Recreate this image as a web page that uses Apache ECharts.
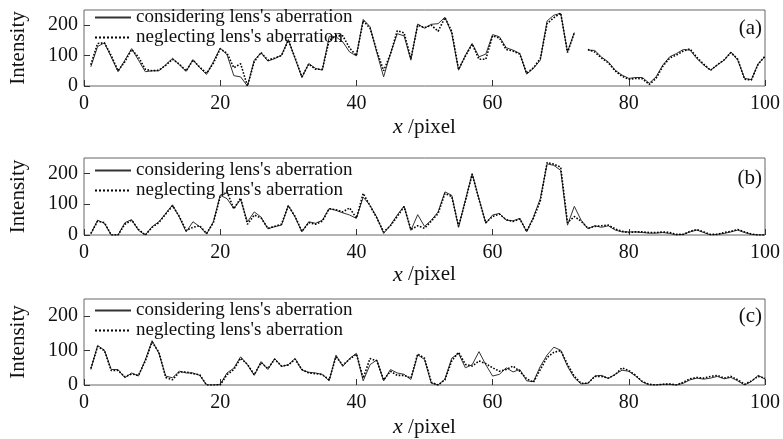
<!DOCTYPE html>
<html><head><meta charset="utf-8">
<script src="https://cdn.jsdelivr.net/npm/echarts@6/dist/echarts.min.js"></script>
<style>html,body{margin:0;padding:0;background:#fff}#c{width:783px;height:439px}</style>
</head><body><div id="c"></div>
<script>
// pixel index 1..100
const xPixels = Array.from({length:100}, (_, i) => i + 1);
const xTicks = [0, 20, 40, 60, 80, 100];
const yTicks = [0, 100, 200];
const nameSolid = "considering lens's aberration";
const nameDot = "neglecting lens's aberration";
const panelLabels = ['(a)', '(b)', '(c)'];

const aSolid = [63,130,142,95,47,85,123,85,47,50, 50,70,91,70,48,87,60,38,80,125, 103,34,30,0,85,109,82,90,101,153, 90,28,74,58,52,162,162,145,112,99, 219,195,110,30,107,172,165,85,204,190, 203,205,226,173,52,101,140,96,105,169, 162,126,118,107,39,58,85,214,233,239, 112,176,null,118,117,95,79,52,36,25, 28,28,9,30,69,96,107,120,118,90, 69,52,69,85,112,85,25,21,74,96];
const aDot = [70,140,142,100,50,80,120,95,55,50, 52,68,88,72,50,85,62,42,75,122, 108,60,73,0,80,110,85,92,100,150, 92,30,72,55,55,150,165,165,125,100, 215,190,115,50,105,182,175,90,200,192, 200,180,225,180,55,98,138,88,88,165, 158,120,115,105,42,60,90,205,225,240, 110,175,null,120,112,92,76,50,32,22, 25,24,5,25,65,92,102,115,122,94, 72,52,70,86,110,88,22,20,72,98];
const bSolid = [3,48,38,0,0,40,50,15,0,27, 43,70,98,58,10,43,27,3,43,129, 118,86,115,43,75,58,20,27,32,96, 58,10,43,38,48,86,80,72,65,54, 123,96,58,5,32,65,94,15,66,28, 48,75,140,129,25,113,199,118,38,65, 70,48,46,54,10,58,118,231,226,210, 32,93,48,20,30,25,30,16,10,10, 10,8,6,6,8,5,0,2,10,16, 8,0,2,5,10,16,8,2,0,0];
const bDot = [5,45,40,0,0,35,48,18,0,25, 40,68,95,60,15,25,30,5,40,125, 140,85,120,35,65,55,22,28,35,95, 60,12,40,35,45,85,82,75,88,55, 135,95,55,10,30,60,92,18,30,22, 45,70,135,125,28,110,198,115,40,60, 68,50,44,52,12,55,110,235,230,220, 40,60,45,22,28,30,32,20,12,8, 10,10,8,8,10,8,2,2,12,18, 10,2,2,8,12,18,10,3,0,0];
const cSolid = [45,115,101,45,45,21,35,26,73,129, 92,26,21,40,35,35,28,0,0,2, 35,49,82,59,28,68,45,77,54,59, 77,43,37,35,31,12,87,54,77,92, 12,59,73,12,45,35,31,16,88,74, 5,0,17,78,92,50,59,97,59,26, 31,50,38,45,12,10,54,87,110,101, 54,21,3,5,26,28,19,31,43,40, 26,9,0,0,2,2,0,5,15,20, 17,20,25,18,22,12,0,10,28,17];
const cDot = [48,112,100,42,42,24,32,28,70,125, 95,22,15,38,38,33,30,0,0,0, 30,45,78,60,30,65,48,75,55,58, 75,45,35,33,30,15,82,58,75,90, 20,77,70,15,40,28,28,20,90,78, 8,0,15,70,95,60,55,70,62,50, 40,45,55,40,18,8,45,80,95,100, 60,25,5,5,25,25,20,30,50,42, 28,10,2,0,2,3,0,8,18,22, 20,25,28,20,25,15,2,12,25,20];

const panels = [[aSolid, aDot], [bSolid, bDot], [cSolid, cDot]];
const serif = "'Liberation Serif', 'DejaVu Serif', serif";
const grids = [
  {left: 82, right: 15, top: 10, height: 76},
  {left: 82, right: 15, top: 158, height: 77},
  {left: 82, right: 15, top: 299, height: 87}
];
const xNameGaps = [30, 27, 31];
const pair = arr => arr.map((v, i) => [xPixels[i], v]);

const option = {
  animation: false,
  backgroundColor: '#fff',
  grid: grids.map(g => Object.assign({show: true, borderColor: '#666', borderWidth: 1, backgroundColor: 'transparent'}, g)),
  title: panelLabels.map((t, i) => ({
    text: t, right: 21, top: [18, 168, 306][i], padding: 0,
    textStyle: {fontFamily: serif, fontSize: 21, fontWeight: 'normal', color: '#111'}
  })),
  legend: grids.map((g, i) => ({
    data: [nameSolid, nameDot], orient: 'vertical', left: 94, top: [8, 161, 301][i],
    itemGap: 1, itemWidth: 36, itemHeight: 18, padding: 0, selectedMode: false,
    itemStyle: {opacity: 0},
    textStyle: {fontFamily: serif, fontSize: 19, color: '#111', padding: [0, 0, 0, 0]}
  })),
  xAxis: grids.map((g, i) => ({
    type: 'value', gridIndex: i, min: xTicks[0], max: xTicks[xTicks.length - 1], interval: 20,
    axisLine: {show: false}, splitLine: {show: false},
    axisTick: {inside: true, length: 6, lineStyle: {color: '#333'}},
    axisLabel: {margin: 8, fontFamily: serif, fontSize: 20, color: '#111'},
    name: '{i|x} /pixel', nameLocation: 'middle', nameGap: xNameGaps[i],
    nameTextStyle: {fontFamily: serif, fontSize: 21, color: '#111', rich: {i: {fontFamily: serif, fontStyle: 'italic', fontSize: 22, color: '#111'}}}
  })),
  yAxis: grids.map((g, i) => ({
    type: 'value', gridIndex: i, min: yTicks[0], max: 250, interval: 100,
    axisLine: {show: false}, splitLine: {show: false},
    axisTick: {inside: true, length: 6, lineStyle: {color: '#333'}},
    axisLabel: {margin: 6, fontFamily: serif, fontSize: 20, color: '#111', showMaxLabel: false},
    name: 'Intensity', nameLocation: 'middle', nameGap: 55,
    nameTextStyle: {fontFamily: serif, fontSize: 21, color: '#111'}
  })),
  series: panels.flatMap((p, i) => [
    {name: nameSolid, type: 'line', xAxisIndex: i, yAxisIndex: i, data: pair(p[0]), symbol: 'none',
     connectNulls: false, lineStyle: {color: '#333', width: 1, type: 'solid'}, itemStyle: {color: '#333'}},
    {name: nameDot, type: 'line', xAxisIndex: i, yAxisIndex: i, data: pair(p[1]), symbol: 'none',
     connectNulls: false, lineStyle: {color: '#000', width: 1.6, type: 'dotted'}, itemStyle: {color: '#000'}}
  ])
};
const chart = echarts.init(document.getElementById('c'), null, {renderer: 'canvas'});
chart.setOption(option);
</script></body></html>
